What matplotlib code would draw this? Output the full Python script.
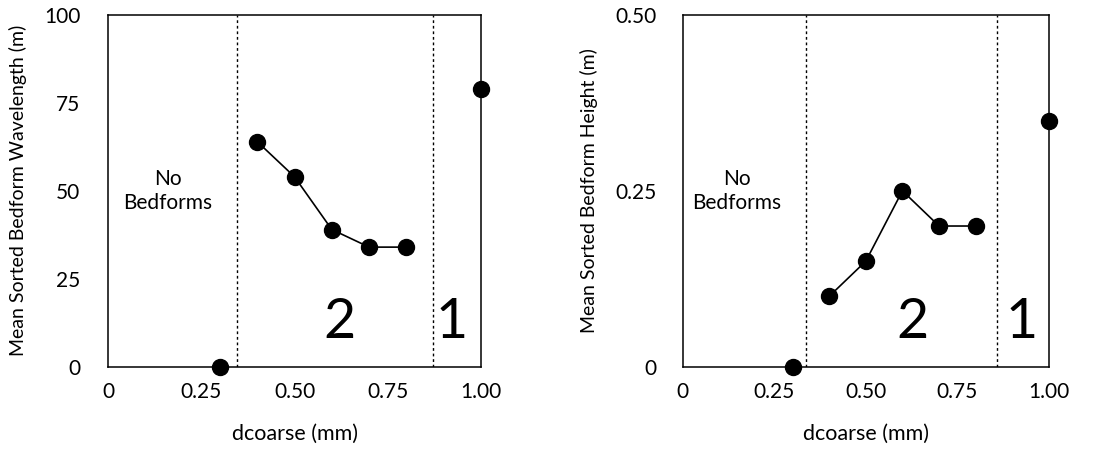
import matplotlib
matplotlib.use("Agg")
import matplotlib.pyplot as plt

plt.rcParams['font.family'] = ['Lato', 'DejaVu Sans']

dcoarse = [0.3, 0.4, 0.5, 0.6, 0.7, 0.8, 1.0]
wavelength = [0, 64, 54, 39, 34, 34, 79]
height = [0, 0.10, 0.15, 0.25, 0.20, 0.20, 0.35]
xticks = [0, 0.25, 0.50, 0.75, 1.00]
xticklabels = ["0", "0.25", "0.50", "0.75", "1.00"]

fig = plt.figure(figsize=(10.94, 4.49), dpi=100)
ax1 = fig.add_axes([0.0987, 0.1833, 0.341, 0.7833])
ax2 = fig.add_axes([0.624, 0.1833, 0.3348, 0.7833])

def draw(ax, y, ymax, yticks, yticklabels, ylabel, bounds, txt_x, ypad):
    # isolated points plus the connected run 0.4-0.8
    ax.plot(dcoarse[1:6], y[1:6], color='black', lw=1.2, zorder=3)
    ax.plot(dcoarse, y, 'o', color='black', ms=11.5, zorder=4, clip_on=False)
    for b in bounds:
        ax.axvline(b, color='black', lw=1, ls=(0, (2, 2)))
    ax.set_xlim(0, 1.0)
    ax.set_ylim(0, ymax)
    ax.set_xticks(xticks)
    ax.set_xticklabels(xticklabels)
    ax.set_yticks(yticks)
    ax.set_yticklabels(yticklabels)
    ax.tick_params(length=0, labelsize=15)
    ax.tick_params(axis='x', pad=11)
    ax.tick_params(axis='y', pad=ypad)
    for s in ax.spines.values():
        s.set_linewidth(1.1)
    ax.set_xlabel("dcoarse (mm)", fontsize=15.5, labelpad=16)
    ax.set_ylabel(ylabel, fontsize=14, labelpad=12)
    ax.text(txt_x[0], 0.5 * ymax, "No\nBedforms", ha='center', va='center',
            fontsize=15, linespacing=1.25)
    ax.text(txt_x[1], 0.125 * ymax, "2", ha='center', va='center', fontsize=40)
    ax.text(txt_x[2], 0.125 * ymax, "1", ha='center', va='center', fontsize=40)

draw(ax1, wavelength, 100, [0, 25, 50, 75, 100], ["0", "25", "50", "75", "100"],
     "Mean Sorted Bedform Wavelength (m)", [0.345, 0.87], [0.16, 0.62, 0.92], 20)
draw(ax2, height, 0.5, [0, 0.25, 0.5], ["0", "0.25", "0.50"],
     "Mean Sorted Bedform Height (m)", [0.336, 0.857], [0.147, 0.626, 0.925], 19)

fig.savefig("out.png", dpi=100)
